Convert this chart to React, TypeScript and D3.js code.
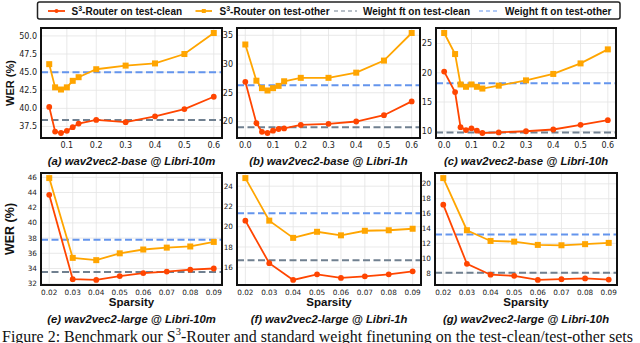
import React from "react";
import * as d3 from "d3";

// sparsity levels
const sparsityBase10m = [0.04, 0.06, 0.08, 0.1, 0.12, 0.14, 0.2, 0.3, 0.4, 0.5, 0.6];
const sparsityBase = [0.0, 0.04, 0.06, 0.08, 0.1, 0.12, 0.14, 0.2, 0.3, 0.4, 0.5, 0.6];
const sparsityLarge = [0.02, 0.03, 0.04, 0.05, 0.06, 0.07, 0.08, 0.09];

// (a) wav2vec2-base @ Libri-10m
const cleanA = [40.2, 36.8, 36.6, 36.9, 37.4, 37.9, 38.4, 38.1, 38.9, 39.9, 41.6];
const otherA = [46.1, 42.9, 42.6, 42.9, 43.8, 44.3, 45.4, 45.9, 46.2, 47.5, 50.4];
const ftA = { clean: 38.4, other: 45.0 };
// (b) wav2vec2-base @ Libri-1h
const cleanB = [26.9, 19.7, 18.2, 18.0, 18.4, 18.7, 18.8, 19.4, 19.6, 20.0, 21.1, 23.5];
const otherB = [33.4, 27.1, 25.8, 25.4, 25.8, 26.2, 27.0, 27.6, 27.6, 28.5, 30.6, 35.4];
const ftB = { clean: 19.0, other: 26.3 };
// (c) wav2vec2-base @ Libri-10h
const cleanC = [20.2, 16.7, 10.7, 10.2, 10.5, 10.1, 9.7, 9.8, 10.0, 10.3, 11.1, 11.9];
const otherC = [26.8, 23.2, 18.0, 17.6, 18.0, 17.6, 17.3, 17.8, 18.7, 19.8, 21.6, 24.0];
const ftC = { clean: 9.8, other: 18.2 };
// (e) wav2vec2-large @ Libri-10m
const cleanE = [43.7, 32.6, 32.5, 33.0, 33.4, 33.6, 33.85, 34.0];
const otherE = [45.9, 35.4, 35.1, 36.0, 36.5, 36.75, 36.9, 37.5];
const ftE = { clean: 33.55, other: 37.8 };
// (f) wav2vec2-large @ Libri-1h
const cleanF = [20.6, 16.4, 14.75, 15.3, 14.95, 15.1, 15.3, 15.6];
const otherF = [24.8, 20.6, 18.9, 19.5, 19.15, 19.6, 19.65, 19.8];
const ftF = { clean: 16.7, other: 21.33 };
// (g) wav2vec2-large @ Libri-10h
const cleanG = [17.2, 9.26, 7.8, 7.65, 7.1, 7.2, 7.3, 7.15];
const otherG = [20.77, 13.77, 12.33, 12.24, 11.8, 11.75, 11.9, 12.07];
const ftG = { clean: 8.05, other: 13.2 };

// tick labels
const yTicksA = [37.5, 40, 42.5, 45, 47.5, 50];
const yTicksB = [20, 25, 30, 35];
const yTicksC = [10, 15, 20, 25];
const yTicksE = [32, 34, 36, 38, 40, 42, 44, 46];
const yTicksF = [16, 18, 20, 22, 24];
const yTicksG = [8, 10, 12, 14, 16, 18, 20];
const xTicksA = [0.1, 0.2, 0.3, 0.4, 0.5, 0.6];
const xTicksBase = [0.0, 0.1, 0.2, 0.3, 0.4, 0.5, 0.6];

const titles = [
  "(a) wav2vec2-base @ Libri-10m",
  "(b) wav2vec2-base @ Libri-1h",
  "(c) wav2vec2-base @ Libri-10h",
  "(e) wav2vec2-large @ Libri-10m",
  "(f) wav2vec2-large @ Libri-1h",
  "(g) wav2vec2-large @ Libri-10h",
];

const RED = "#ff4500";
const ORANGE = "#ffa500";
const BLUE = "#6495ed";
const GRAY = "#708090";
const SANS = "'Liberation Sans', Arial, sans-serif";
const TICKFONT = "'DejaVu Sans', sans-serif";

function pad(ext) {
  const m = (ext[1] - ext[0]) * 0.05;
  return [ext[0] - m, ext[1] + m];
}

function Panel(props) {
  const { box, xs, clean, other, ft, xTicks, xFmt, yTicks, yFmt, tickSize, title, bottom, yLabelSize } = props;
  const [x0, x1, y0, y1] = box;
  const x = d3.scaleLinear().domain(pad(d3.extent(xs))).range([x0, x1]);
  const y = d3.scaleLinear().domain(pad(d3.extent([...clean, ...other]))).range([y1, y0]);
  const line = d3.line().x(d => x(d[0])).y(d => y(d[1]));
  const cleanPts = xs.map((v, i) => [v, clean[i]]);
  const otherPts = xs.map((v, i) => [v, other[i]]);
  const fx = d3.format(xFmt);
  const fy = d3.format(yFmt);
  const cx = (x0 + x1) / 2;

  return (
    <g>
      <rect x={x0} y={y0} width={x1 - x0} height={y1 - y0} fill="white" />
      {xTicks.map((t, i) => (
        <line key={"gx" + i} x1={x(t)} x2={x(t)} y1={y0} y2={y1} stroke="#e3e3e3" strokeWidth={0.8} />
      ))}
      {yTicks.map((t, i) => (
        <line key={"gy" + i} x1={x0} x2={x1} y1={y(t)} y2={y(t)} stroke="#e3e3e3" strokeWidth={0.8} />
      ))}
      <line x1={x0} x2={x1} y1={y(ft.other)} y2={y(ft.other)} stroke={BLUE} strokeWidth={2} strokeDasharray="7,3.5" />
      <line x1={x0} x2={x1} y1={y(ft.clean)} y2={y(ft.clean)} stroke={GRAY} strokeWidth={2} strokeDasharray="7,3.5" />
      <path d={line(otherPts)} fill="none" stroke={ORANGE} strokeWidth={1.8} />
      {otherPts.map((p, i) => (
        <rect key={"o" + i} x={x(p[0]) - 3} y={y(p[1]) - 3} width={6} height={6} fill={ORANGE} />
      ))}
      <path d={line(cleanPts)} fill="none" stroke={RED} strokeWidth={1.8} />
      {cleanPts.map((p, i) => (
        <circle key={"c" + i} cx={x(p[0])} cy={y(p[1])} r={2.9} fill={RED} />
      ))}
      <rect x={x0} y={y0} width={x1 - x0} height={y1 - y0} fill="none" stroke="#111" strokeWidth={2} />
      {yTicks.map((t, i) => (
        <text key={"ty" + i} x={x0 - 4} y={y(t)} dy="0.35em" textAnchor="end" fontSize={tickSize} fontFamily={TICKFONT} fill="#222">
          {fy(t)}
        </text>
      ))}
      {xTicks.map((t, i) => (
        <text key={"tx" + i} x={x(t)} y={y1 + 4} dy="0.8em" textAnchor="middle" fontSize={tickSize} fontFamily={TICKFONT} fill="#222">
          {fx(t)}
        </text>
      ))}
      {bottom && (
        <text x={cx} y={306} textAnchor="middle" fontSize={11.5} fontWeight="bold" fontFamily={SANS} fill="#111">
          Sparsity
        </text>
      )}
      <text x={cx} y={bottom ? 323 : 165} textAnchor="middle" fontSize={11.3} fontWeight="bold" fontStyle="italic" fontFamily={SANS} fill="#111">
        {title}
      </text>
      {yLabelSize && (
        <text transform={`translate(${14},${(y0 + y1) / 2}) rotate(-90)`} textAnchor="middle" fontSize={yLabelSize} fontWeight="bold" fontFamily={SANS} fill="#111">
          WER (%)
        </text>
      )}
    </g>
  );
}

function Legend() {
  const cy = 11;
  return (
    <g fontFamily={SANS} fontSize={10} fontWeight="bold" fill="#111">
      <rect x={37.5} y={2} width={582.5} height={17} rx={2} fill="white" stroke="#222" strokeWidth={1.5} />
      <line x1={48} x2={65} y1={cy} y2={cy} stroke={RED} strokeWidth={1.8} />
      <circle cx={56.5} cy={cy} r={2} fill={RED} />
      <text x={71.5} y={cy + 3.5}>
        S<tspan fontSize={7} dy={-4}>3</tspan><tspan dy={4}>-Router on test-clean</tspan>
      </text>
      <line x1={195.5} x2={212} y1={cy} y2={cy} stroke={ORANGE} strokeWidth={1.8} />
      <rect x={201.8} y={cy - 2} width={4} height={4} fill={ORANGE} />
      <text x={219.5} y={cy + 3.5}>
        S<tspan fontSize={7} dy={-4}>3</tspan><tspan dy={4}>-Router on test-other</tspan>
      </text>
      <line x1={334} x2={357} y1={cy} y2={cy} stroke={GRAY} strokeWidth={1.2} strokeDasharray="4,3" />
      <text x={363} y={cy + 3.5}>Weight ft on test-clean</text>
      <line x1={479} x2={500} y1={cy} y2={cy} stroke={BLUE} strokeWidth={1.2} strokeDasharray="4,3" />
      <text x={505} y={cy + 3.5}>Weight ft on test-other</text>
    </g>
  );
}

export default function App() {
  const top = [28, 138];
  const bot = [173, 285];
  return (
    <svg width={640} height={343} viewBox="0 0 640 343" style={{ position: "absolute", left: 0, top: 0, background: "white" }}>
      <rect width={640} height={343} fill="white" />
      <Legend />
      <Panel box={[41, 222, ...top]} xs={sparsityBase10m} clean={cleanA} other={otherA} ft={ftA}
        xTicks={xTicksA} xFmt=".1f" yTicks={yTicksA} yFmt=".1f" tickSize={8} title={titles[0]} yLabelSize={11} />
      <Panel box={[237, 420, ...top]} xs={sparsityBase} clean={cleanB} other={otherB} ft={ftB}
        xTicks={xTicksBase} xFmt=".1f" yTicks={yTicksB} yFmt="d" tickSize={8} title={titles[1]} />
      <Panel box={[436, 616, ...top]} xs={sparsityBase} clean={cleanC} other={otherC} ft={ftC}
        xTicks={xTicksBase} xFmt=".1f" yTicks={yTicksC} yFmt="d" tickSize={8} title={titles[2]} />
      <Panel box={[41, 222, ...bot]} xs={sparsityLarge} clean={cleanE} other={otherE} ft={ftE}
        xTicks={sparsityLarge} xFmt=".2f" yTicks={yTicksE} yFmt="d" tickSize={7.3} title={titles[3]} bottom yLabelSize={12.5} />
      <Panel box={[237, 421, ...bot]} xs={sparsityLarge} clean={cleanF} other={otherF} ft={ftF}
        xTicks={sparsityLarge} xFmt=".2f" yTicks={yTicksF} yFmt="d" tickSize={7.3} title={titles[4]} bottom />
      <Panel box={[435, 617, ...bot]} xs={sparsityLarge} clean={cleanG} other={otherG} ft={ftG}
        xTicks={sparsityLarge} xFmt=".2f" yTicks={yTicksG} yFmt="d" tickSize={7.3} title={titles[5]} bottom />
      <text x={2} y={341.5} fontFamily="'Liberation Serif', 'Times New Roman', serif" fontSize={16} fill="#111"
        textLength={631} lengthAdjust="spacingAndGlyphs">
        Figure 2: Benchmark our S<tspan fontSize={10.5} dy={-6.5}>3</tspan><tspan dy={6.5}>-Router and standard weight finetuning on the test-clean/test-other sets</tspan>
      </text>
    </svg>
  );
}
